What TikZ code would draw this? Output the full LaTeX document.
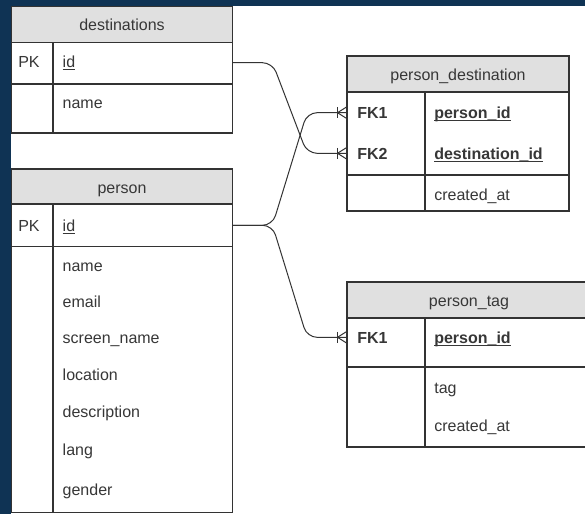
\documentclass[tikz,border=0pt]{standalone}
\usepackage{fontspec}
\setmainfont{Liberation Sans}
\usetikzlibrary{calc}
\definecolor{bgblue}{RGB}{15,51,84}
\definecolor{hdr}{RGB}{224,224,224}
\definecolor{ln}{RGB}{51,51,51}
\definecolor{txtc}{RGB}{55,55,55}
\begin{document}
\begin{tikzpicture}[x=1pt,y=-1pt,
  cell/.style={draw=ln, line width=1.1pt, inner sep=0pt, outer sep=0pt, anchor=north west, rectangle},
  hcell/.style={cell, fill=hdr},
  divider/.style={draw=ln, line width=1.1pt},
  lbl/.style={text=txtc, font=\fontsize{16}{19}\selectfont, inner sep=0pt, outer sep=0pt},
  ttl/.style={lbl, anchor=base},
  fld/.style={lbl, anchor=base west},
  key/.style={lbl, anchor=base west, font=\fontsize{16}{19}\selectfont\bfseries},
  uline/.style={draw=txtc, line width=0.8pt},
  conn/.style={draw=ln, line width=1pt, rounded corners=10pt},
  crowfoot/.pic={
    \draw[ln, line width=1pt] (-9.5,-5.5) -- (-9.5,5.5);
    \draw[ln, line width=1pt] (0,-6) -- (-9.5,0) -- (0,6);
  }]
\useasboundingbox (0,0) rectangle (585,514);
\clip (0,0) rectangle (585,514);
\fill[bgblue] (0,0) rectangle (585,514);
\fill[white] (11,6) rectangle (585,514);

% ---------- destinations ----------
\node[hcell, minimum width=221pt, minimum height=36pt] (dest-h) at (11.5,6.5) {};
\node[cell, minimum width=221pt, minimum height=41.5pt] (dest-k) at (11.5,42.5) {};
\node[cell, minimum width=221pt, minimum height=49pt] (dest-f) at (11.5,84) {};
\draw[divider] (53,42.5) -- (53,133);
\node[ttl] (dest-title) at (122,30.5) {destinations};
\node[fld] (dest-pk) at (18.3,67.5) {PK};
\node[fld] (dest-idt) at (62.7,67.5) {id};
\draw[uline] ($(dest-idt.base west)+(0,2)$) -- ($(dest-idt.base east)+(0,2)$);
\node[fld] (dest-name) at (62.7,108) {name};

% ---------- person ----------
\node[hcell, minimum width=221pt, minimum height=35pt] (per-h) at (11.5,169) {};
\node[cell, minimum width=221pt, minimum height=42.5pt] (per-k) at (11.5,204) {};
\node[cell, minimum width=221pt, minimum height=266pt] (per-f) at (11.5,246.5) {};
\draw[divider] (53,204) -- (53,512.5);
\node[ttl] (per-title) at (122,193.3) {person};
\node[fld] (per-pk) at (18.3,231) {PK};
\node[fld] (per-idt) at (62.7,231) {id};
\draw[uline] ($(per-idt.base west)+(0,2)$) -- ($(per-idt.base east)+(0,2)$);
\node[fld] (per-name) at (62.7,271.5) {name};
\node[fld] (per-email) at (62.7,307) {email};
\node[fld] (per-screen) at (62.7,343) {screen\_name};
\node[fld] (per-loc) at (62.7,380) {location};
\node[fld] (per-desc) at (62.7,417) {description};
\node[fld] (per-lang) at (62.7,455) {lang};
\node[fld] (per-gender) at (62.7,495) {gender};

% ---------- person_destination ----------
\node[hcell, minimum width=222pt, minimum height=36pt] (pd-h) at (347,56) {};
\node[cell, minimum width=222pt, minimum height=83pt] (pd-k) at (347,92) {};
\node[cell, minimum width=222pt, minimum height=36pt] (pd-f) at (347,175) {};
\draw[divider] (425,92) -- (425,211);
\node[ttl] (pd-title) at (458,80) {person\_destination};
\node[key] (pd-fk1t) at (357.3,118.3) {FK1};
\node[key] (pd-pid) at (434.3,118.3) {person\_id};
\draw[uline] ($(pd-pid.base west)+(0,1.6)$) -- ($(pd-pid.base east)+(0,1.6)$);
\node[key] (pd-fk2t) at (357.3,159.3) {FK2};
\node[key] (pd-did) at (434.3,159.3) {destination\_id};
\draw[uline] ($(pd-did.base west)+(0,1.6)$) -- ($(pd-did.base east)+(0,1.6)$);
\node[fld] (pd-cat) at (434.3,200) {created\_at};

% ---------- person_tag ----------
\node[hcell, minimum width=244pt, minimum height=36pt] (pt-h) at (347,282) {};
\node[cell, minimum width=244pt, minimum height=49pt] (pt-k) at (347,318) {};
\node[cell, minimum width=244pt, minimum height=80pt] (pt-f) at (347,367) {};
\draw[divider] (425,318) -- (425,447);
\node[ttl] (pt-title) at (469,306) {person\_tag};
\node[key] (pt-fk1t) at (357.3,343.3) {FK1};
\node[key] (pt-pid) at (434.3,343.3) {person\_id};
\draw[uline] ($(pt-pid.base west)+(0,1.6)$) -- ($(pt-pid.base east)+(0,1.6)$);
\node[fld] (pt-tag) at (434.3,393) {tag};
\node[fld] (pt-cat) at (434.3,431.5) {created\_at};

% ---------- connectors ----------
\coordinate (dest-id) at (232.5,62.7);
\coordinate (person-id) at (232.5,225.3);
\coordinate (pd-fk1) at (347,112.7);
\coordinate (pd-fk2) at (347,153.3);
\coordinate (pt-fk1) at (347,337.3);

\draw[conn] (dest-id) -- ++(40,0) -- ($(pd-fk2)+(-40,0)$) -- (pd-fk2);
\draw[conn] (person-id) -- ++(40,0) -- ($(pd-fk1)+(-40,0)$) -- (pd-fk1);
\draw[conn] (person-id) -- ++(40,0) -- ($(pt-fk1)+(-40,0)$) -- (pt-fk1);
\pic at (pd-fk1) {crowfoot};
\pic at (pd-fk2) {crowfoot};
\pic at (pt-fk1) {crowfoot};
\end{tikzpicture}
\end{document}
